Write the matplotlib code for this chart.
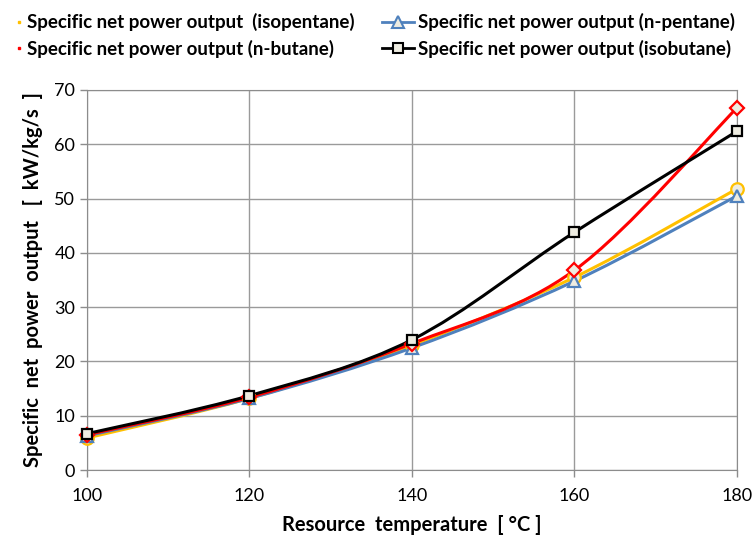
import matplotlib
matplotlib.use("Agg")
import matplotlib.pyplot as plt
from matplotlib.path import Path
from matplotlib.patches import PathPatch
from matplotlib.lines import Line2D
import numpy as np

plt.rcParams['font.family'] = ['Lato', 'DejaVu Sans']

temps = [100, 120, 140, 160, 180]
isopentane = [5.9, 13.2, 23.0, 35.5, 51.8]
n_pentane = [6.3, 13.2, 22.5, 34.8, 50.5]
n_butane = [6.5, 13.4, 23.3, 36.8, 66.7]
isobutane = [6.7, 13.7, 24.0, 43.8, 62.4]

labels = ["Specific net power output  (isopentane)",
          "Specific net power output (n-pentane)",
          "Specific net power output (n-butane)",
          "Specific net power output (isobutane)"]


def smooth_path(x, y):
    # Excel-style smoothed line: cubic bezier with catmull-rom control points
    p = np.column_stack([x, y]).astype(float)
    n = len(p)
    verts = [p[0]]
    codes = [Path.MOVETO]
    for i in range(n - 1):
        p0 = p[i - 1] if i > 0 else p[i]
        p1 = p[i]
        p2 = p[i + 1]
        p3 = p[i + 2] if i + 2 < n else p[i + 1]
        c1 = p1 + (p2 - p0) / 6.0
        c2 = p2 - (p3 - p1) / 6.0
        verts += [c1, c2, p2]
        codes += [Path.CURVE4] * 3
    return Path(verts, codes)


fig = plt.figure(figsize=(7.52, 5.44), dpi=100)
ax = fig.add_axes([0.1157, 0.136, 0.8643, 0.6986])

face = '#EEECE1'
series = [
    (isopentane, '#FFC000', 'o', 9),
    (n_pentane, '#4F81BD', '^', 9),
    (n_butane, '#FF0000', 'D', 7.5),
    (isobutane, '#000000', 's', 7.5),
]
for z, (vals, col, mk, ms) in enumerate(series):
    ax.add_patch(PathPatch(smooth_path(temps, vals), fill=False, edgecolor=col,
                           lw=2.2, zorder=3 + z, capstyle='round'))
    ax.plot(temps, vals, ls='none', marker=mk, ms=ms, mfc=face, mec=col,
            mew=1.6, zorder=10 + z, clip_on=False)

ax.set_xlim(100, 180)
ax.set_ylim(0, 70)
ax.set_xticks(temps)
ax.set_yticks(range(0, 71, 10))
ax.grid(True, color='#9a9a9a', lw=1.0)
ax.set_axisbelow(True)
for s in ax.spines.values():
    s.set_color('#8c8c8c')
ax.tick_params(colors='#8c8c8c', labelcolor='black', labelsize=13, length=5,
               width=1.0)
ax.tick_params(axis='x', pad=8)
ax.set_xlabel("Resource  temperature  [ °C ]", fontsize=14.5, fontweight='bold',
              labelpad=8)
ax.set_ylabel("Specific  net  power  output   [  kW/kg/s  ]", fontsize=14.5,
              fontweight='bold', labelpad=8)

dot_iso = Line2D([], [], ls='none', marker='s', ms=2, mfc='#FFC000', mec='#FFC000')
dot_nbut = Line2D([], [], ls='none', marker='s', ms=2, mfc='#FF0000', mec='#FF0000')
h_npen = Line2D([], [], color='#4F81BD', lw=2, marker='^', ms=8, mfc=face,
                mec='#4F81BD', mew=1.5)
h_ibut = Line2D([], [], color='#000000', lw=2, marker='s', ms=7, mfc=face,
                mec='#000000', mew=1.5)

prop = {'size': 13.5, 'weight': 'bold'}
fig.legend([dot_iso, dot_nbut], [labels[0], labels[2]], loc='upper left',
           bbox_to_anchor=(0.0066, 0.993), frameon=False, borderpad=0,
           handlelength=0.5, handletextpad=0.2, labelspacing=0.45, prop=prop)
fig.legend([h_npen, h_ibut], [labels[1], labels[3]], loc='upper left',
           bbox_to_anchor=(0.496, 0.993), frameon=False, borderpad=0,
           handlelength=1.7, handletextpad=0.2, labelspacing=0.45, prop=prop)
fig.savefig("out.png", dpi=100)
